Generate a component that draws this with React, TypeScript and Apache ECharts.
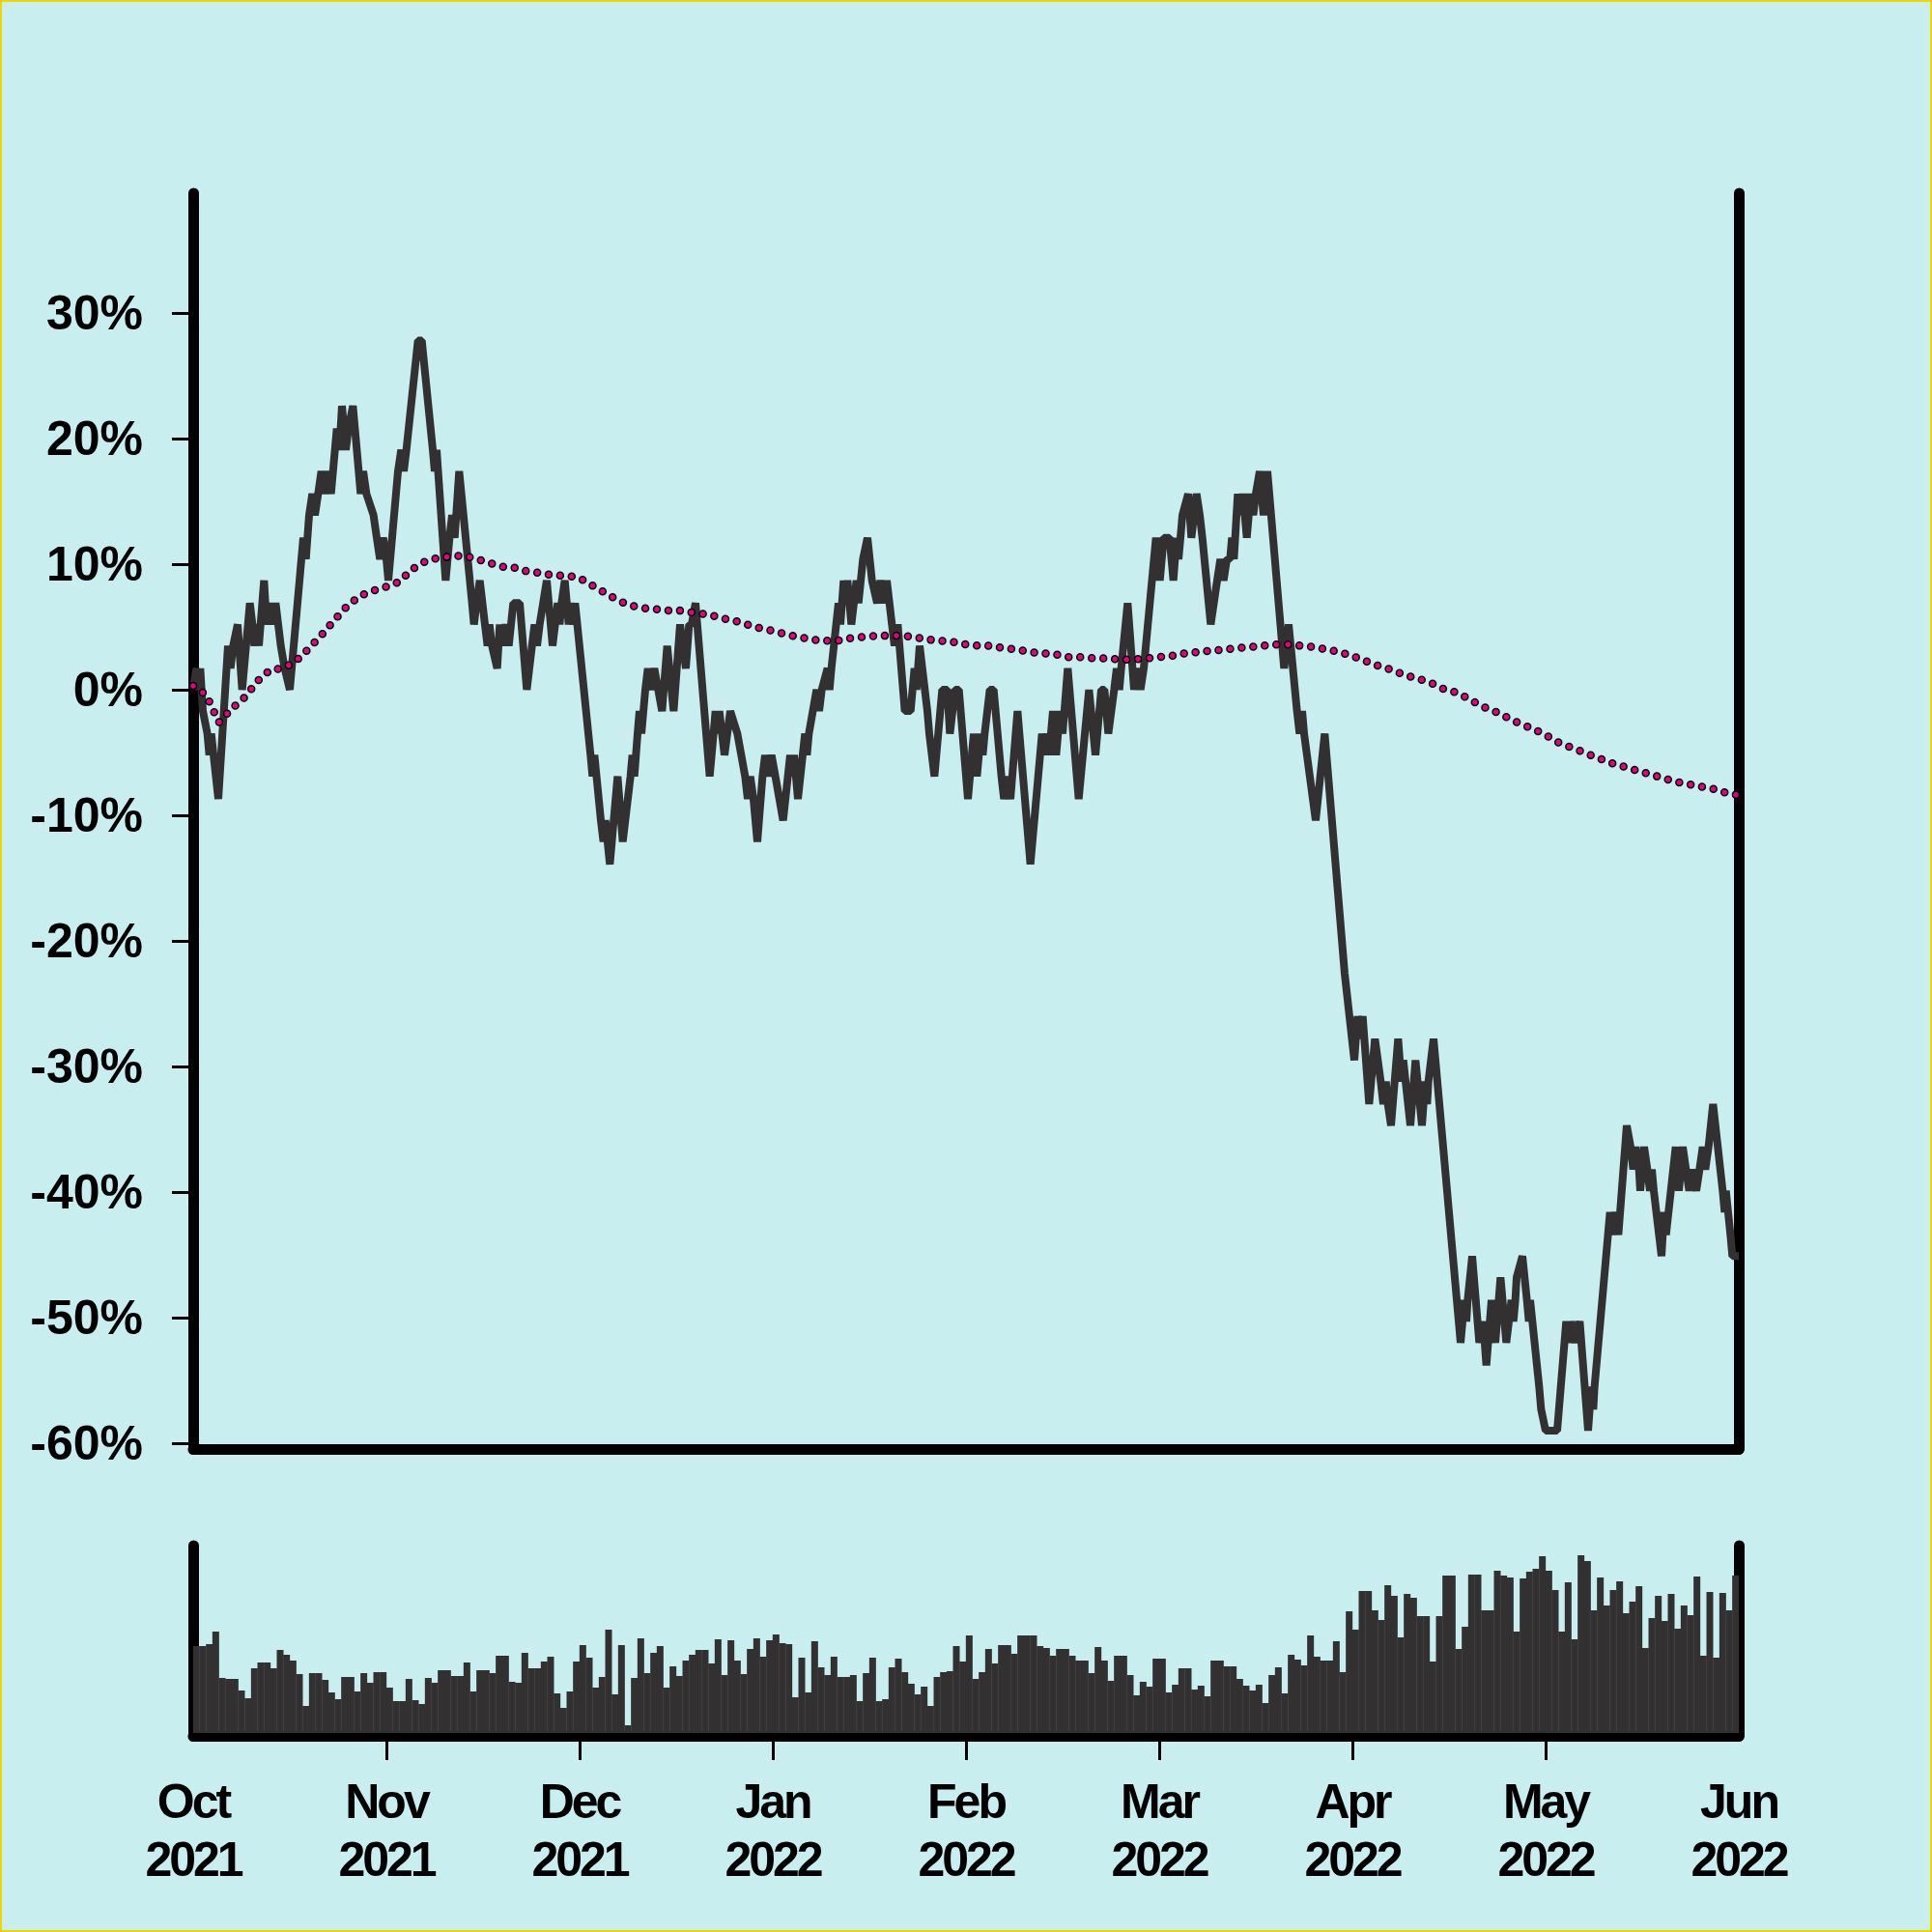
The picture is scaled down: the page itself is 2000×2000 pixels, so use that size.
import React, { useEffect, useRef } from "react";
import * as echarts from "echarts";

// x positions are in "days" of an evenly spaced 30-day month grid (Oct 2021 = 0, Jun 2022 = 240)
const monthLabels = ["Oct\n2021", "Nov\n2021", "Dec\n2021", "Jan\n2022", "Feb\n2022", "Mar\n2022", "Apr\n2022", "May\n2022", "Jun\n2022"];
const monthTicks = [30, 60, 90, 120, 150, 180, 210];
const yTicks = [-60, -50, -40, -30, -20, -10, 0, 10, 20, 30];

// price (% change) vertices
const priceDay = [
  0, 0.5, 0.8, 1.1, 1.5, 2.2, 2.5, 2.8, 3.9, 5.4, 5.8, 6.2, 6.9, 7.6, 8.8, 9.2, 9.5, 9.8, 10.2, 11.0,
  11.4, 11.8, 12.3, 12.8, 13.6, 14.2, 15.0, 16.8, 17.1, 17.5, 18.0, 18.5, 18.9, 19.4, 19.9, 20.4, 20.9, 21.4, 22.3, 22.7,
  23.1, 23.7, 24.1, 24.8, 25.7, 26.0, 26.4, 26.9, 28.0, 28.5, 29.0, 29.5, 30.0, 30.3, 31.8, 32.3, 32.7, 33.1, 34.9, 35.5,
  37.2, 37.5, 37.8, 39.2, 39.8, 40.2, 40.6, 41.3, 43.3, 43.6, 44.0, 44.5, 45.3, 45.7, 46.0, 46.4, 47.2, 47.6, 48.0, 48.5,
  49.0, 49.7, 50.7, 51.8, 53.0, 53.4, 53.8, 54.9, 55.8, 56.6, 56.9, 57.2, 57.7, 58.3, 58.6, 59.0, 59.3, 61.7, 62.0, 62.3,
  63.3, 63.7, 64.0, 64.7, 65.9, 66.7, 67.9, 68.2, 68.5, 69.0, 69.3, 69.6, 70.2, 70.6, 71.0, 71.6, 72.8, 73.6, 74.6, 75.6,
  76.5, 77.0, 77.4, 78.0, 80.2, 80.8, 81.1, 81.4, 81.7, 82.5, 83.4, 84.5, 85.7, 86.1, 86.5, 87.0, 87.6, 88.4, 88.8, 89.3,
  89.8, 90.4, 91.6, 92.7, 93.0, 93.3, 93.9, 95.0, 95.3, 95.6, 96.8, 97.2, 97.6, 98.5, 98.8, 99.1, 100.2, 100.5, 101.0, 101.3,
  101.6, 102.2, 103.0, 103.3, 104.0, 104.7, 105.4, 106.2, 106.7, 107.2, 107.7, 108.5, 108.9, 109.4, 110.5, 111.4, 112.0, 112.3, 112.8, 114.0,
  114.3, 115.1, 116.3, 117.1, 117.5, 118.3, 118.9, 120.3, 121.2, 121.7, 122.3, 122.6, 122.9, 123.7, 124.3, 125.5, 125.9, 126.4, 126.9, 128.0,
  130.0, 131.8, 132.2, 132.6, 132.9, 133.5, 134.0, 134.6, 135.0, 135.8, 137.5, 139.1, 140.1, 141.0, 141.5, 142.1, 143.0, 143.4, 143.8, 144.1,
  145.1, 146.1, 146.6, 147.1, 147.6, 149.5, 150.1, 150.4, 150.7, 151.6, 152.2, 152.7, 153.0, 153.3, 153.6, 154.5, 155.0, 155.8, 156.3, 156.7,
  158.0, 159.0, 159.5, 160.0, 160.5, 161.0, 161.3, 161.6, 162.2, 162.6, 163.0, 163.6, 164.2, 164.6, 165.0, 165.6, 166.2, 166.8, 169.4, 170.1,
  171.4, 171.8, 172.2, 172.5, 174.3, 175.7, 178.8, 180.3, 180.8, 181.2, 181.6, 182.6, 183.5, 184.4, 184.8, 185.2, 185.5, 186.0, 187.1, 187.6,
  187.9, 189.0, 189.8, 190.8, 191.3, 191.6, 191.8, 192.6, 196.8, 197.4, 197.7, 197.9, 198.6, 199.7, 200.3, 200.8, 201.6, 202.2, 203.0, 203.9,
  204.7, 205.0, 205.3, 205.5, 206.4, 207.1, 207.4, 207.6, 209.0, 209.3, 210.0, 211.8, 213.2, 213.6, 214.0, 214.6, 215.3, 216.6, 217.1, 217.4,
  217.6, 220.0, 220.3, 220.8, 221.3, 222.6, 223.2, 223.6, 224.0, 224.5, 224.7, 225.3, 225.8, 226.2, 226.5, 226.8, 228.0, 228.4, 228.7, 230.2,
  230.7, 231.3, 231.8, 232.3, 232.8, 233.4, 233.9, 234.4, 234.8, 235.3, 236.0, 237.5, 237.8, 238.0, 238.7, 239.0, 240.0
];
const priceVal = [
  0, 1.7, 0, 1.7, -1.7, -3.5, -5.2, -3.5, -8.7, 3.5, 1.7, 3.5, 5.2, 0, 6.9, 5.2, 3.5, 5.2, 3.5, 8.7,
  5.2, 6.9, 5.2, 6.9, 3.5, 1.7, 0, 10.4, 12.1, 10.4, 13.9, 15.6, 13.9, 15.6, 17.4, 15.6, 17.4, 15.6, 20.8, 19.1,
  22.6, 19.1, 20.8, 22.6, 17.4, 15.6, 17.4, 15.6, 13.9, 12.1, 10.4, 12.1, 10.4, 8.7, 17.4, 19.1, 17.4, 19.1, 27.8, 27.8,
  19.1, 17.4, 19.1, 8.7, 12.1, 13.9, 12.1, 17.4, 6.9, 5.2, 6.9, 8.7, 5.2, 3.5, 5.2, 3.5, 1.7, 5.2, 3.5, 5.2,
  3.5, 6.9, 6.9, 0, 5.2, 3.5, 5.2, 8.7, 3.5, 6.9, 5.2, 6.9, 8.7, 5.2, 6.9, 5.2, 6.9, -5.2, -6.9, -5.2,
  -10.4, -12.1, -10.4, -13.9, -6.9, -12.1, -6.9, -5.2, -6.9, -3.5, -1.7, -3.5, 0, 1.7, 0, 1.7, -1.7, 3.5, -1.7, 5.2,
  1.7, 5.2, 5.2, 6.9, -6.9, -3.5, -1.7, -3.5, -1.7, -5.2, -1.7, -3.5, -6.9, -8.7, -6.9, -8.7, -12.1, -6.9, -5.2, -6.9,
  -5.2, -6.9, -10.4, -5.2, -6.9, -5.2, -8.7, -3.5, -5.2, -3.5, 0, -1.7, 0, 1.7, 0, 1.7, 6.9, 5.2, 8.7, 6.9,
  8.7, 5.2, 8.7, 6.9, 10.4, 12.1, 8.7, 6.9, 8.7, 6.9, 8.7, 5.2, 3.5, 5.2, -1.7, -1.7, 1.7, 0, 3.5, -1.7,
  -3.5, -6.9, 0, 0, -3.5, 0, 0, -8.7, -3.5, -6.9, -3.5, -5.2, -3.5, 0, 0, -6.9, -8.7, -6.9, -8.7, -1.7,
  -13.9, -3.5, -5.2, -3.5, -5.2, -1.7, -5.2, -1.7, -3.5, 1.7, -8.7, 0, -5.2, 0, 0, -3.5, 0, 1.7, 0, 1.7,
  6.9, 0, 1.7, 0, 1.7, 12.1, 8.7, 10.4, 12.1, 12.1, 8.7, 12.1, 10.4, 12.1, 13.9, 15.6, 12.1, 15.6, 13.9, 12.1,
  5.2, 8.7, 10.4, 8.7, 10.4, 10.4, 12.1, 10.4, 15.6, 13.9, 15.6, 12.1, 15.6, 13.9, 15.6, 17.4, 13.9, 17.4, 1.7, 5.2,
  -1.7, -3.5, -1.7, -3.5, -10.4, -3.5, -22.6, -29.5, -26.0, -27.8, -26.0, -33.0, -27.8, -31.2, -33.0, -31.2, -33.0, -34.7, -27.8, -31.2,
  -29.5, -34.7, -29.5, -34.7, -31.2, -33.0, -31.2, -27.8, -52.0, -48.6, -50.3, -48.6, -45.1, -52.0, -50.3, -53.8, -48.6, -52.0, -46.8, -52.0,
  -48.6, -50.3, -48.6, -46.8, -45.1, -48.6, -50.3, -48.6, -55.5, -57.3, -59.0, -59.0, -50.3, -52.0, -50.3, -52.0, -50.3, -59.0, -55.5, -57.3,
  -55.5, -41.6, -43.4, -41.6, -43.4, -34.7, -36.4, -38.2, -36.4, -38.2, -39.9, -36.4, -38.2, -39.9, -38.2, -39.9, -45.1, -41.6, -43.4, -36.4,
  -39.9, -36.4, -38.2, -39.9, -38.2, -39.9, -38.2, -36.4, -38.2, -36.4, -33.0, -39.9, -41.6, -39.9, -43.4, -45.1, -45.1
];

// moving-average line (%), one reading every 2 days from day 0 to day 240
const maVal = [
  0.3, -0.4, -2.6, -1.5, -0.6, 0.7, 1.6, 1.7, 2.3, 3.3,
  4.4, 5.6, 6.7, 7.5, 7.9, 8.2, 8.6, 9.6, 10.2, 10.5,
  10.6, 10.7, 10.4, 10.1, 9.8, 9.7, 9.4, 9.3, 9.1, 9.1,
  8.9, 8.3, 7.7, 7.1, 6.7, 6.5, 6.4, 6.3, 6.3, 6.1,
  6.0, 5.7, 5.5, 5.2, 4.9, 4.7, 4.4, 4.2, 4.0, 3.9,
  3.9, 4.1, 4.2, 4.3, 4.3, 4.3, 4.2, 4.0, 3.9, 3.8,
  3.6, 3.5, 3.5, 3.3, 3.2, 3.0, 2.9, 2.8, 2.6, 2.6,
  2.5, 2.5, 2.4, 2.4, 2.5, 2.6, 2.7, 2.9, 3.0, 3.1,
  3.2, 3.3, 3.4, 3.5, 3.6, 3.6, 3.5, 3.4, 3.2, 3.0,
  2.7, 2.3, 1.9, 1.6, 1.2, 0.9, 0.6, 0.1, -0.2, -0.7,
  -1.3, -1.7, -2.2, -2.7, -3.1, -3.6, -4.2, -4.6, -5.0, -5.4,
  -5.8, -6.1, -6.4, -6.7, -7.0, -7.3, -7.5, -7.7, -7.9, -8.2,
  -8.4
];

// daily volume (relative units)
const volume = [
  90, 90, 92, 105, 57, 56, 56, 44, 36, 67,
  73, 73, 67, 86, 81, 75, 61, 28, 62, 62,
  55, 42, 35, 58, 58, 43, 62, 52, 63, 63,
  47, 33, 33, 56, 34, 30, 57, 52, 65, 65,
  59, 59, 73, 43, 65, 65, 62, 80, 80, 53,
  52, 83, 67, 67, 74, 79, 41, 26, 43, 74,
  91, 78, 47, 58, 107, 40, 91, 8, 57, 98,
  62, 83, 90, 47, 69, 59, 75, 81, 86, 86,
  72, 97, 60, 96, 75, 61, 87, 98, 79, 96,
  102, 93, 92, 37, 78, 42, 95, 68, 60, 79,
  58, 58, 60, 33, 62, 78, 33, 35, 68, 77,
  63, 51, 40, 48, 28, 58, 63, 64, 90, 74,
  101, 56, 63, 87, 72, 91, 91, 82, 101, 101,
  101, 90, 88, 80, 87, 87, 80, 75, 75, 62,
  89, 75, 54, 80, 80, 60, 39, 53, 48, 77,
  77, 42, 50, 67, 67, 45, 49, 38, 75, 75,
  69, 69, 56, 49, 44, 50, 31, 60, 68, 41,
  81, 76, 70, 101, 79, 75, 75, 95, 63, 126,
  107, 147, 147, 127, 117, 153, 142, 99, 144, 140,
  121, 121, 74, 121, 163, 163, 87, 110, 164, 164,
  127, 127, 168, 163, 161, 105, 160, 167, 170, 183,
  168, 148, 105, 156, 97, 184, 178, 127, 161, 132,
  148, 157, 124, 136, 152, 88, 119, 142, 116, 144,
  108, 132, 122, 162, 80, 146, 78, 145, 127, 163
];

const FONT = "'Liberation Sans', Arial, Helvetica, sans-serif";
const INK = "#323031";
const PINK = "#e8007f";
const BG = "#c8eef0";

export default function App() {
  const ref = useRef<HTMLDivElement>(null);

  useEffect(() => {
    document.body.style.margin = "0";
    const chart = echarts.init(ref.current as HTMLDivElement, null, { renderer: "svg" });

    const frame = { show: true, onZero: false, lineStyle: { color: "#000", width: 11, cap: "round" } };
    const labelStyle = { color: "#000", fontFamily: FONT, fontWeight: "bold", fontSize: 50 };

    const pricePts = priceDay.map((d, i) => [d, priceVal[i]]);
    const maPts = maVal.map((v, i) => [i * 2, v]);
    const volPts = volume.map((v, i) => [i + 0.5, v]);

    const option: any = {
      animation: false,
      backgroundColor: BG,
      grid: [
        { left: 200, width: 1600, top: 200, height: 1300 },
        { left: 200, width: 1600, top: 1600, height: 197 },
      ],
      xAxis: [
        {
          type: "value", gridIndex: 0, min: 0, max: 240, interval: 30,
          axisLine: frame, axisTick: { show: false }, axisLabel: { show: false }, splitLine: { show: false },
        },
        {
          type: "value", gridIndex: 1, min: 0, max: 240, interval: 30,
          axisLine: frame,
          axisTick: { show: true, customValues: monthTicks, length: 25, lineStyle: { color: "#000", width: 3 } },
          axisLabel: {
            ...labelStyle, lineHeight: 60, margin: 38, showMinLabel: true, showMaxLabel: true,
            formatter: (v: number) => monthLabels[Math.round(v / 30)] ?? "",
          },
          splitLine: { show: false },
        },
      ],
      yAxis: [
        {
          type: "value", gridIndex: 0, min: -60.46, max: 39.54, position: "left",
          axisLine: frame,
          axisTick: { show: true, customValues: yTicks, length: 22, lineStyle: { color: "#000", width: 3 } },
          axisLabel: { ...labelStyle, customValues: yTicks, margin: 52, formatter: (v: number) => `${v}%` },
          splitLine: { show: false },
        },
        {
          type: "value", gridIndex: 0, min: -60.46, max: 39.54, position: "right",
          axisLine: frame, axisTick: { show: false }, axisLabel: { show: false }, splitLine: { show: false },
        },
        {
          type: "value", gridIndex: 1, min: -3, max: 194, position: "left",
          axisLine: frame, axisTick: { show: false }, axisLabel: { show: false }, splitLine: { show: false },
        },
        {
          type: "value", gridIndex: 1, min: -3, max: 194, position: "right",
          axisLine: frame, axisTick: { show: false }, axisLabel: { show: false }, splitLine: { show: false },
        },
      ],
      series: [
        {
          type: "bar", xAxisIndex: 1, yAxisIndex: 2, data: volPts, barWidth: 7,
          itemStyle: { color: INK }, z: 1,
        },
        {
          type: "line", xAxisIndex: 0, yAxisIndex: 0, data: pricePts, showSymbol: false,
          lineStyle: { color: INK, width: 8 }, z: 2,
        },
        {
          type: "line", xAxisIndex: 0, yAxisIndex: 0, data: maPts, showSymbol: false,
          lineStyle: { color: "#000", width: 8.5, type: [0, 12], cap: "round" }, z: 3,
        },
        {
          type: "line", xAxisIndex: 0, yAxisIndex: 0, data: maPts, showSymbol: false,
          lineStyle: { color: PINK, width: 5.5, type: [0, 12], cap: "round" }, z: 4,
        },
      ],
      graphic: [
        {
          type: "rect", silent: true, z: 100,
          shape: { x: 1, y: 1, width: 1998, height: 1998 },
          style: { fill: "none", stroke: "#f0d400", lineWidth: 2 },
        },
      ],
    };

    chart.setOption(option);
    return () => chart.dispose();
  }, []);

  return (
    <>
      <style>{"#root svg text { letter-spacing: -3px; } #root svg text[text-anchor='end'] { letter-spacing: 0; }"}</style>
      <div ref={ref} style={{ width: 2000, height: 2000 }} />
    </>
  );
}
